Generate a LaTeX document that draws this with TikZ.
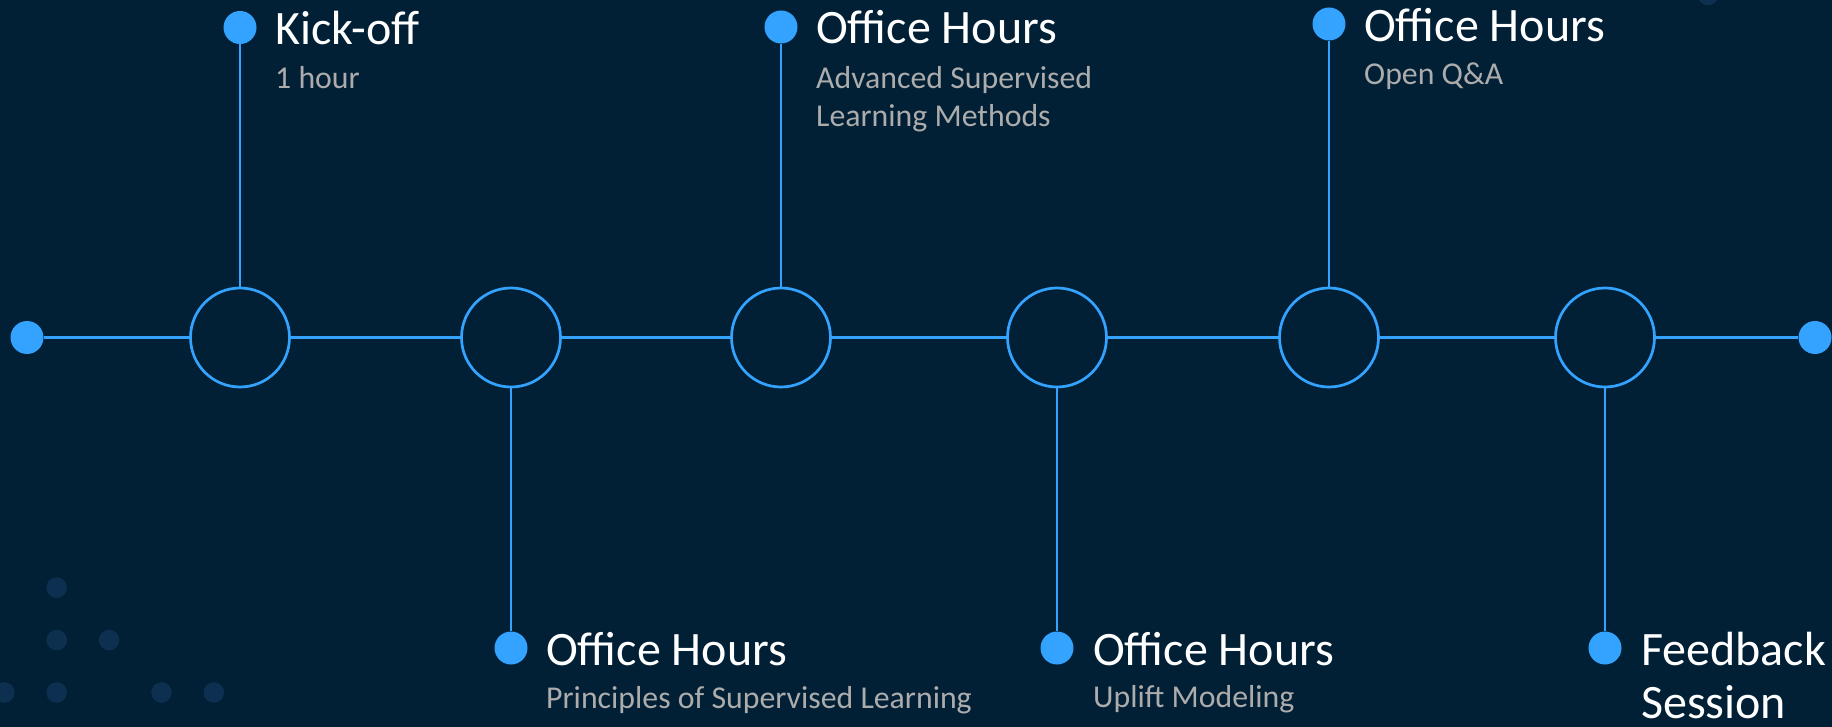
\documentclass[tikz,border=0pt]{standalone}
\usepackage{fontspec}
\setmainfont{Carlito}
\definecolor{bg}{RGB}{1,32,54}
\definecolor{accent}{RGB}{51,163,255}
\definecolor{subgray}{RGB}{172,172,172}
\definecolor{faint}{RGB}{14,48,80}
\tikzset{
  ring/.style={circle, draw=accent, line width=2.7pt, minimum size=99pt, inner sep=0pt},
  bluedot/.style={circle, fill=accent, minimum size=33pt, inner sep=0pt},
  mainline/.style={draw=accent, line width=2.7pt},
  conn/.style={draw=accent, line width=1.5pt},
  title/.style={anchor=base west, inner sep=0pt, text=white, font=\fontsize{48}{52}\selectfont},
  subt/.style={anchor=base west, inner sep=0pt, text=subgray, font=\fontsize{31.8}{34}\selectfont},
  faintdot/.style={fill=faint}
}
\begin{document}
\begin{tikzpicture}[x=1pt,y=-1pt]
\fill[bg] (0,0) rectangle (1832,727);
\useasboundingbox (0,0) rectangle (1832,727);

% decorative faint dots
\foreach \p in {(56.7,587.7),(56.7,640.1),(109.1,640.1),(4.3,692.5),(56.7,692.5),(161.5,692.5),(213.9,692.5),(1708,-5)}
  \fill[faintdot] \p circle (10.3pt);

% end dots and rings
\node[bluedot] (L) at (27,337.5) {};
\node[bluedot] (R) at (1815,337.5) {};
\node[ring] (c1) at (240,337.5) {};
\node[ring] (c2) at (511,337.5) {};
\node[ring] (c3) at (781,337.5) {};
\node[ring] (c4) at (1057,337.5) {};
\node[ring] (c5) at (1329,337.5) {};
\node[ring] (c6) at (1605,337.5) {};

\draw[mainline] (L) -- (c1);
\draw[mainline] (c1) -- (c2);
\draw[mainline] (c2) -- (c3);
\draw[mainline] (c3) -- (c4);
\draw[mainline] (c4) -- (c5);
\draw[mainline] (c5) -- (c6);
\draw[mainline] (c6) -- (R);

% milestone dots
\node[bluedot] (t1) at (240,27.5) {};
\node[bluedot] (t3) at (781,27) {};
\node[bluedot] (t5) at (1329,24) {};
\node[bluedot] (b2) at (511,648) {};
\node[bluedot] (b4) at (1057,648) {};
\node[bluedot] (b6) at (1605,648) {};

\draw[conn] (c1.north) -- (t1);
\draw[conn] (c3.north) -- (t3);
\draw[conn] (c5.north) -- (t5);
\draw[conn] (c2.south) -- (b2);
\draw[conn] (c4.south) -- (b4);
\draw[conn] (c6.south) -- (b6);

% labels
\node[title] (k1) at (275,45) {Kick-off};
\node[subt] (k1s) at (275,89) {1 hour};

\node[title] (k3) at (816,44) {Office Hours};
\node[subt] (k3s) at (816,88.5) {Advanced Supervised};
\node[subt] (k3t) at (816,126.5) {Learning Methods};

\node[title] (k5) at (1364,42) {Office Hours};
\node[subt] (k5s) at (1364,85) {Open Q\&A};

\node[title] (k2) at (546,665) {Office Hours};
\node[subt] (k2s) at (546,708) {Principles of Supervised Learning};

\node[title] (k4) at (1093,665) {Office Hours};
\node[subt] (k4s) at (1093,707) {Uplift Modeling};

\node[title] (k6) at (1641,665) {Feedback};
\node[title] (k6s) at (1641,718) {Session};
\end{tikzpicture}
\end{document}
